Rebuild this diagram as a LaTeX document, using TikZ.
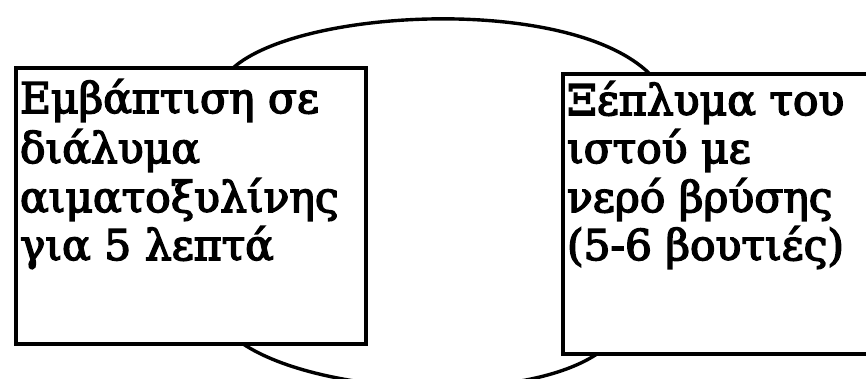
\documentclass[tikz,border=0pt]{standalone}
\usepackage{fontspec}
\setmainfont{DejaVu Serif}
\newfontfamily\boxfont[FakeBold=3.5]{DejaVu Serif}
\usetikzlibrary{calc}
\begin{document}
\begin{tikzpicture}[x=1pt,y=-1pt,
  box/.style={draw, line width=3.4pt, fill=white, inner sep=0pt, outer sep=0pt, anchor=north west},
  arc/.style={draw, line width=3.4pt},
  txt/.style={anchor=base west, inner sep=0pt, outer sep=0pt, font=\boxfont\fontsize{42.5}{49}\selectfont}]
\useasboundingbox (0,0) rectangle (866,378);
\node[box, minimum width=350pt, minimum height=276pt] (L) at (16,68) {};
\node[box, minimum width=317pt, minimum height=280pt] (R) at (563,74) {};
\coordinate (a1) at ($(L.north west)!0.62!(L.north east)$);
\coordinate (a2) at ($(R.north west)!0.274!(R.north east)$);
\coordinate (b1) at ($(L.south west)!0.649!(L.south east)$);
\coordinate (b2) at ($(R.south west)!0.107!(R.south east)$);
\draw[arc] (a1) .. controls +(67,-60) and +(-80,-79) .. (a2);
\draw[arc] (b1) .. controls +(77,51) and +(-77,51) .. (b2);
\node[txt] (l1) at (20,113) {Εμβάπτιση σε};
\node[txt] (l2) at (20,163) {διάλυμα};
\node[txt] (l3) at (20,212) {αιματοξυλίνης};
\node[txt] (l4) at (20,260) {για 5 λεπτά};
\node[txt] (r1) at (567,115) {Ξέπλυμα του};
\node[txt] (r2) at (567,163) {ιστού με};
\node[txt] (r3) at (567,212) {νερό βρύσης};
\node[txt] (r4) at (567,260) {(5-6 βουτιές)};
\end{tikzpicture}
\end{document}
